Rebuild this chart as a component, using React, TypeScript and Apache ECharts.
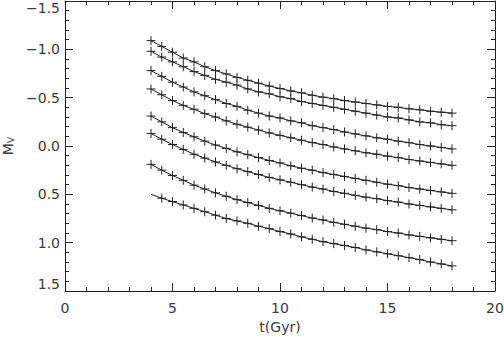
import React, { useEffect, useRef } from "react";
import * as echarts from "echarts";

// ages (Gyr) at which each isochrone magnitude is sampled
const ages = [4, 4.5, 5, 5.5, 6, 6.5, 7, 7.5, 8, 8.5, 9, 9.5, 10, 10.5, 11, 11.5, 12, 12.5, 13, 13.5, 14, 14.5, 15, 15.5, 16, 16.5, 17, 17.5, 18];

const curve1 = [-1.09, -1.03, -0.97, -0.91, -0.87, -0.82, -0.78, -0.745, -0.71, -0.68, -0.65, -0.62, -0.595, -0.57, -0.55, -0.525, -0.505, -0.49, -0.47, -0.455, -0.44, -0.425, -0.41, -0.4, -0.385, -0.375, -0.36, -0.35, -0.34];
const curve2 = [-0.98, -0.92, -0.87, -0.82, -0.77, -0.73, -0.69, -0.66, -0.63, -0.59, -0.56, -0.54, -0.51, -0.49, -0.46, -0.44, -0.42, -0.4, -0.38, -0.36, -0.34, -0.32, -0.3, -0.29, -0.27, -0.25, -0.24, -0.22, -0.21];
const curve3 = [-0.78, -0.72, -0.66, -0.61, -0.56, -0.52, -0.48, -0.44, -0.41, -0.37, -0.34, -0.31, -0.29, -0.26, -0.24, -0.21, -0.19, -0.17, -0.145, -0.125, -0.105, -0.085, -0.07, -0.05, -0.035, -0.015, 0.0, 0.015, 0.03];
const curve4 = [-0.59, -0.53, -0.47, -0.42, -0.38, -0.335, -0.3, -0.26, -0.225, -0.195, -0.165, -0.135, -0.11, -0.085, -0.06, -0.035, -0.015, 0.01, 0.03, 0.05, 0.07, 0.085, 0.105, 0.12, 0.14, 0.155, 0.17, 0.185, 0.2];
const curve5 = [-0.31, -0.25, -0.19, -0.14, -0.095, -0.05, -0.01, 0.025, 0.06, 0.09, 0.12, 0.15, 0.175, 0.205, 0.23, 0.25, 0.275, 0.295, 0.315, 0.335, 0.355, 0.375, 0.395, 0.41, 0.43, 0.445, 0.46, 0.475, 0.49];
const curve6 = [-0.13, -0.07, -0.015, 0.035, 0.085, 0.125, 0.165, 0.2, 0.235, 0.265, 0.295, 0.325, 0.35, 0.375, 0.4, 0.425, 0.445, 0.47, 0.49, 0.51, 0.53, 0.545, 0.565, 0.58, 0.6, 0.615, 0.63, 0.645, 0.66];
const curve7 = [0.19, 0.25, 0.305, 0.355, 0.405, 0.445, 0.485, 0.52, 0.555, 0.585, 0.615, 0.645, 0.67, 0.695, 0.72, 0.745, 0.765, 0.79, 0.81, 0.83, 0.85, 0.865, 0.885, 0.9, 0.92, 0.935, 0.95, 0.965, 0.98];
const curve8 = [0.5, 0.54, 0.575, 0.61, 0.645, 0.68, 0.715, 0.75, 0.775, 0.8, 0.83, 0.855, 0.885, 0.91, 0.94, 0.965, 0.99, 1.01, 1.03, 1.05, 1.075, 1.095, 1.115, 1.135, 1.155, 1.175, 1.2, 1.22, 1.24];
const curves = [curve1, curve2, curve3, curve4, curve5, curve6, curve7, curve8];
// the last curve has no measured point at its first age
const firstPointMissing = [false, false, false, false, false, false, false, true];

const xTicks = [0, 5, 10, 15, 20];
const yTicks = [-1.5, -1.0, -0.5, 0.0, 0.5, 1.0, 1.5];

const FONT = "DejaVu Sans";
const TEXT = "#3a3a3a";
const INK = "#222";

export default function App() {
  const ref = useRef<HTMLDivElement>(null);
  useEffect(() => {
    if (!ref.current) return;
    const chart = echarts.init(ref.current, null, { renderer: "svg" });
    const fmtY = (v: number) => (v < 0 ? "\u2212" : "") + Math.abs(v).toFixed(1);
    const tickCommon = {
      axisLine: { show: true, onZero: false, lineStyle: { color: INK, width: 1 } },
      axisTick: { show: true, inside: true, length: 8, lineStyle: { color: INK, width: 1 } },
      minorTick: { show: true, splitNumber: 5, length: 4, lineStyle: { color: INK, width: 1 } },
      splitLine: { show: false },
    };
    const series = curves.map((c, i) => ({
      type: "line",
      xAxisIndex: 0,
      yAxisIndex: 0,
      data: ages.map((t, j) =>
        j === 0 && firstPointMissing[i] ? { value: [t, c[j]], symbol: "none" } : [t, c[j]]
      ),
      symbol: "path://M0,5L10,5M5,0L5,10",
      symbolSize: 9,
      showSymbol: true,
      lineStyle: { color: INK, width: 1 },
      itemStyle: { color: INK, borderColor: INK, borderWidth: 1 },
      emphasis: { disabled: true },
    }));
    chart.setOption({
      animation: false,
      backgroundColor: "#fff",
      grid: { left: 65, right: 9, top: 1, bottom: 46, containLabel: false, outerBoundsMode: "none" },
      xAxis: [
        {
          type: "value",
          position: "bottom",
          min: xTicks[0],
          max: xTicks[xTicks.length - 1],
          interval: 5,
          ...tickCommon,
          axisLabel: { show: true, margin: 10, color: TEXT, fontFamily: FONT, fontSize: 14 },
          name: "t(Gyr)",
          nameLocation: "middle",
          nameGap: 22,
          nameTextStyle: { color: TEXT, fontFamily: FONT, fontSize: 14 },
        },
        {
          type: "value",
          position: "top",
          min: xTicks[0],
          max: xTicks[xTicks.length - 1],
          interval: 5,
          ...tickCommon,
          axisLabel: { show: false },
        },
      ],
      yAxis: [
        {
          type: "value",
          position: "left",
          inverse: true,
          min: yTicks[0],
          max: yTicks[yTicks.length - 1],
          interval: 0.5,
          ...tickCommon,
          axisLabel: {
            show: true,
            margin: 5,
            color: TEXT,
            fontFamily: FONT,
            fontSize: 14,
            formatter: fmtY,
            verticalAlignMinLabel: "top",
            verticalAlignMaxLabel: "bottom",
          },
          name: "{m|M}{s|V}",
          nameLocation: "middle",
          nameRotate: 90,
          nameGap: 50,
          nameTextStyle: {
            color: TEXT,
            fontFamily: FONT,
            rich: {
              m: { fontFamily: FONT, fontSize: 14, color: TEXT },
              s: { fontFamily: FONT, fontSize: 9, color: TEXT, verticalAlign: "bottom", padding: [6, 0, 0, 0] },
            },
          },
        },
        {
          type: "value",
          position: "right",
          inverse: true,
          min: yTicks[0],
          max: yTicks[yTicks.length - 1],
          interval: 0.5,
          ...tickCommon,
          axisLabel: { show: false },
        },
      ],
      series,
    });
    return () => chart.dispose();
  }, []);
  return (
    <div
      ref={ref}
      style={{ position: "fixed", left: 0, top: 0, width: 504, height: 337, background: "#fff" }}
    />
  );
}
